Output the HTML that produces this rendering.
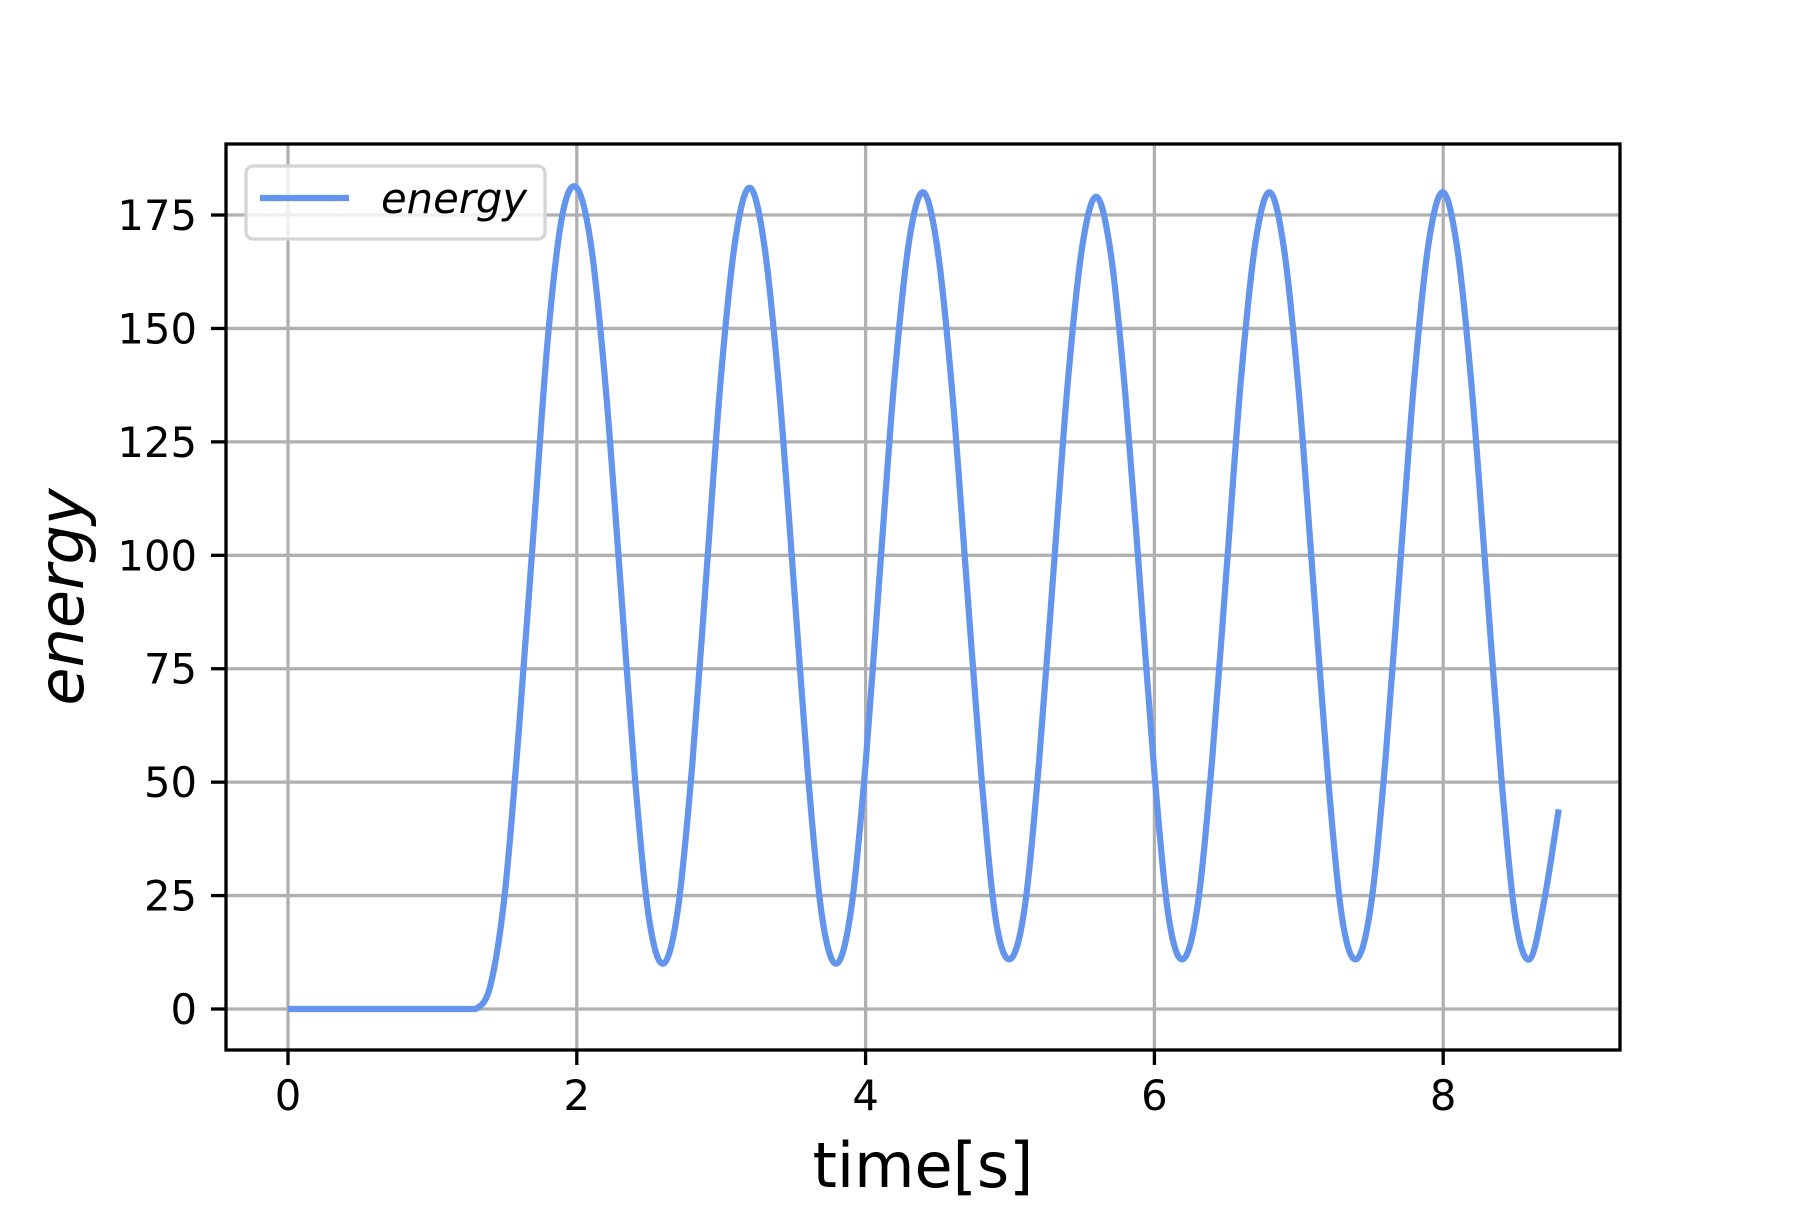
<!DOCTYPE html>
<html><head><meta charset="utf-8"><style>
body{margin:0;background:#fff;}
svg text{font-family:"DejaVu Sans","Liberation Sans",sans-serif;fill:#000;}
</style></head><body>
<svg id="chart" width="1800" height="1200" viewBox="0 0 1800 1200" xmlns="http://www.w3.org/2000/svg">
<rect width="1800" height="1200" fill="#fff"/>
<g id="grid"></g>
<g id="series"></g>
<rect x="226" y="144" width="1394" height="906" fill="none" stroke="#000" stroke-width="3.3"/>
<g id="ticks"></g>
<text x="923" y="1187" font-size="62" text-anchor="middle">time[s]</text>
<text x="0" y="0" font-size="62" font-style="italic" text-anchor="middle" transform="translate(83,597) rotate(-90)">energy</text>
<g>
<rect x="246" y="166" width="299" height="73" rx="7" fill="#fff" fill-opacity="0.8" stroke="#d5d5d5" stroke-width="3.3"/>
<line x1="260" y1="198" x2="349" y2="198" stroke="#6495ed" stroke-width="6.25"/>
<text x="381" y="213" font-size="41.7" font-style="italic">energy</text>
</g>
</svg>
<script>
const times = [];
for (let i = 0; i <= 88; i++) times.push(+(i * 0.1).toFixed(1));
const energyValues = [0,0,0,0,0,0,0,0,0,0,0,0,0,0,
5,25,62,105,148,175,181,
168,137,95,52,20,10,
22,54,97,140,170,181,
168,137,95,52,20,10,
22,54,97,139,169,180,
167,136,94,52,20,11,
22,54,96,138,168,179,
166,135,94,52,20,11,
23,55,97,139,169,180,
167,136,94,52,20,11,
23,55,97,139,169,180,
167,136,94,52,20,11,
24,44];
const xTicks = [0,2,4,6,8];
const yTicks = [0,25,50,75,100,125,150,175];

const X = v => 288 + v * 144.4;
const Y = v => 1009 - v * 4.537;
const NS = 'http://www.w3.org/2000/svg';
const grid = document.getElementById('grid');
const ticks = document.getElementById('ticks');
function mk(tag, attrs, parent){const e=document.createElementNS(NS,tag);for(const k in attrs)e.setAttribute(k,attrs[k]);parent.appendChild(e);return e;}

xTicks.forEach(t=>{
  const g = mk('line',{x1:X(t),x2:X(t),y1:144,y2:1050,stroke:'#b0b0b0','stroke-width':3.3},grid);
  
  
  const tk = mk('line',{x1:X(t),x2:X(t),y1:1050,y2:1065,stroke:'#000','stroke-width':3.3},ticks);
  
  
  const tx = mk('text',{x:X(t),y:1110,'font-size':41.7,'text-anchor':'middle'},ticks);
  tx.textContent = t;
  
  
});
yTicks.forEach(t=>{
  const g = mk('line',{x1:226,x2:1620,y1:Y(t),y2:Y(t),stroke:'#b0b0b0','stroke-width':3.3},grid);
  
  
  const tk = mk('line',{x1:211,x2:226,y1:Y(t),y2:Y(t),stroke:'#000','stroke-width':3.3},ticks);
  
  
  const tx = mk('text',{x:197,y:Y(t)+15,'font-size':41.7,'text-anchor':'end'},ticks);
  tx.textContent = t;
  
  
});

const pts = times.map((t,i)=>[X(t),Y(energyValues[i])]);
const yFloor = Y(0);
let d = 'M'+pts[0][0]+','+pts[0][1];
for(let i=0;i<pts.length-1;i++){
  const p0=pts[Math.max(0,i-1)],p1=pts[i],p2=pts[i+1],p3=pts[Math.min(pts.length-1,i+2)];
  const c1x=p1[0]+(p2[0]-p0[0])/6,c1y=Math.min(yFloor,p1[1]+(p2[1]-p0[1])/6);
  const c2x=p2[0]-(p3[0]-p1[0])/6,c2y=Math.min(yFloor,p2[1]-(p3[1]-p1[1])/6);
  d+=` C${c1x},${c1y} ${c2x},${c2y} ${p2[0]},${p2[1]}`;
}
const line = mk('path',{d:d,fill:'none',stroke:'#6495ed','stroke-width':6.25,'stroke-linejoin':'round'},document.getElementById('series'));


</script>
</body></html>
